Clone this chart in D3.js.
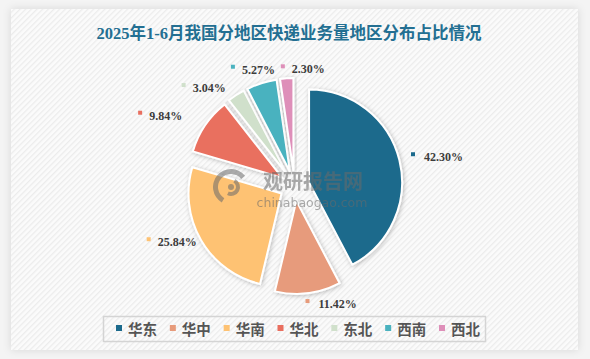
<!DOCTYPE html>
<html><head><meta charset="utf-8">
<script src="https://cdn.jsdelivr.net/npm/d3@7"></script>
<style>html,body{margin:0;padding:0;background:#f4f4f4;}svg{display:block;}</style>
</head><body>
<svg id="chart" width="590" height="359"></svg>
<script>
const title = "2025年1-6月我国分地区快递业务量地区分布占比情况";
const categories = ["华东","华中","华南","华北","东北","西南","西北"];
const values = [42.30, 11.42, 25.84, 9.84, 3.04, 5.27, 2.30];
const colors = ["#1b6a8c","#e79b7b","#fec273","#e96f5f","#d0e0cb","#4ab2bf","#de8fb9"];
// label layout tweaks (px) relative to computed outside position
const labelNudge = [[2,0],[-2,-1],[6,-4],[-13,-3],[-4,3],[17,-2],[39,3]];

const svg = d3.select("#chart");
const W = 590, H = 359;
const defs = svg.append("defs");
const pat = defs.append("pattern").attr("id","stripes").attr("patternUnits","userSpaceOnUse")
  .attr("width",4).attr("height",4).attr("patternTransform","rotate(45)");
pat.append("rect").attr("width",4).attr("height",4).attr("fill","#fbfbfb");
pat.append("rect").attr("width",1.3).attr("height",4).attr("fill","#ececec");
const sh = defs.append("filter").attr("id","shadow").attr("x","-10%").attr("y","-10%").attr("width","130%").attr("height","130%");
sh.append("feDropShadow").attr("dx",1).attr("dy",1).attr("stdDeviation",2).attr("flood-color","#000").attr("flood-opacity",0.25);
const psh = defs.append("filter").attr("id","pshadow").attr("x","-5%").attr("y","-5%").attr("width","110%").attr("height","110%");
psh.append("feDropShadow").attr("dx",0).attr("dy",0).attr("stdDeviation",4).attr("flood-color","#000").attr("flood-opacity",0.12);

svg.append("rect").attr("width",W).attr("height",H).attr("fill","#f4f4f4");
svg.append("rect").attr("x",11).attr("y",9).attr("width",567).attr("height",341).attr("fill","#fff").attr("filter","url(#pshadow)");
svg.append("rect").attr("x",11).attr("y",9).attr("width",567).attr("height",341).attr("fill","url(#stripes)");

svg.append("text").attr("x",289).attr("y",33).attr("text-anchor","middle").attr("dominant-baseline","central")
  .attr("font-family","'Liberation Serif','Noto Sans CJK SC'").attr("font-weight","bold").attr("font-size",16.5)
  .attr("fill","#236f92").text(title);

const cx = 294.5, cy = 186, R = 93, offset = 15, labelR = 120;
const data = categories.map((c,i)=>({name:c, value:values[i], color:colors[i], i}));
const pie = d3.pie().value(d=>d.value).sort(null);
const arcs = pie(data);
const arc = d3.arc().innerRadius(0).outerRadius(R);
const g = svg.append("g").attr("transform",`translate(${cx},${cy})`);
g.selectAll("path").data(arcs).join("path")
  .attr("d",arc)
  .attr("transform",d=>{const a=(d.startAngle+d.endAngle)/2;return `translate(${Math.sin(a)*offset},${-Math.cos(a)*offset})`;})
  .attr("fill",d=>d.data.color).attr("stroke","#fff").attr("stroke-width",2).attr("filter","url(#shadow)");

// watermark
const wm = svg.append("g").attr("opacity",0.55);
wm.append("text").attr("x",313).attr("y",180).attr("text-anchor","middle").attr("dominant-baseline","central")
  .attr("font-family","'Noto Sans CJK SC'").attr("font-weight","bold").attr("font-size",20).attr("fill","#6a6a6a").text("观研报告网");
wm.append("text").attr("x",312).attr("y",202).attr("text-anchor","middle").attr("dominant-baseline","central")
  .attr("font-family","'DejaVu Sans'").attr("font-size",12.5).attr("fill","#6a6a6a").text("chinabaogao.com");
const lg = wm.append("g").attr("transform","translate(231,187)");
lg.append("path").attr("d",d3.arc()({innerRadius:13,outerRadius:18,startAngle:-2.6,endAngle:0.9})).attr("fill","#6a6a6a");
lg.append("path").attr("d",d3.arc()({innerRadius:5,outerRadius:9,startAngle:0.5,endAngle:3.6})).attr("fill","#6a6a6a");
lg.append("path").attr("d",d3.arc()({innerRadius:0,outerRadius:3,startAngle:0,endAngle:6.3})).attr("fill","#6a6a6a");

// labels
const lab = svg.append("g").attr("font-family","'Liberation Serif'").attr("font-weight","bold").attr("font-size",12).attr("fill","#3c3c3c");
arcs.forEach((d,i)=>{
  const a=(d.startAngle+d.endAngle)/2;
  const px = cx + Math.sin(a)*labelR + labelNudge[i][0];
  const py = cy - Math.cos(a)*labelR + labelNudge[i][1];
  const txt = d.data.value.toFixed(2)+"%";
  const t = lab.append("text").attr("dominant-baseline","central").attr("y",py).text(txt);
  const tw = t.node().getComputedTextLength();
  let sx;
  if (Math.sin(a) >= 0) { sx = px; t.attr("x", px+11); }
  else { t.attr("x", px - tw); sx = px - tw - 9; }
  lab.append("rect").attr("x",sx-2).attr("y",py-5).attr("width",4).attr("height",4).attr("fill",d.data.color);
});

// legend
svg.append("rect").attr("x",103.5).attr("y",316.5).attr("width",382).attr("height",25).attr("fill","none").attr("stroke","#d4d4d4").attr("stroke-width",1.5);
const leg = svg.append("g");
const lx = d3.scalePoint().domain(categories).range([119,442]);
categories.forEach((c,i)=>{
  const x = lx(c);
  leg.append("rect").attr("x",x-3).attr("y",325).attr("width",6).attr("height",6).attr("fill",colors[i]);
  leg.append("text").attr("x",x+9).attr("y",328.5).attr("dominant-baseline","central")
    .attr("font-family","'Noto Sans CJK SC'").attr("font-weight","bold").attr("font-size",14.5).attr("fill","#555").text(c);
});
</script>
</body></html>
